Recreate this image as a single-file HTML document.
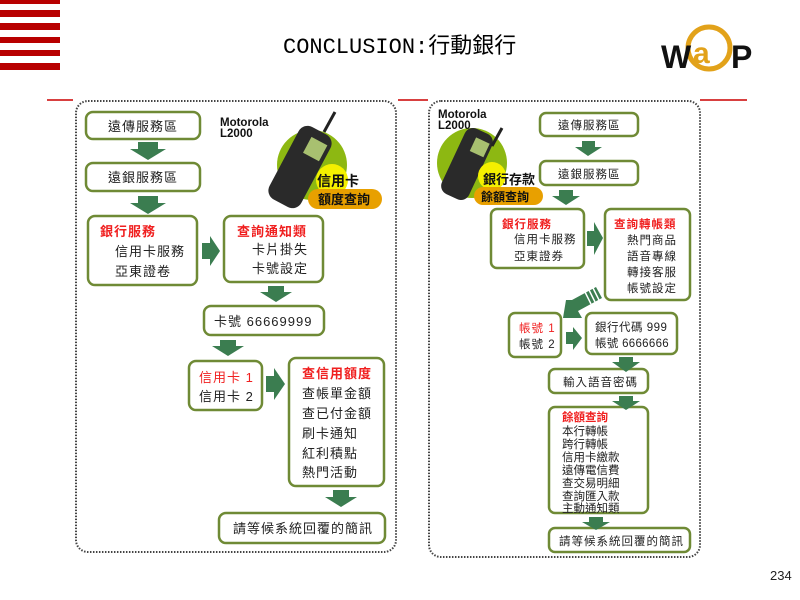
<!DOCTYPE html>
<html><head><meta charset="utf-8"><style>
html,body{margin:0;padding:0;background:#fff;width:800px;height:600px;overflow:hidden}
svg text{font-family:"Liberation Sans","Noto Sans CJK TC",sans-serif}
</style></head><body>
<svg width="800" height="600" xmlns="http://www.w3.org/2000/svg">
<g fill="#b80000">
<rect x="0" y="0" width="60" height="4"/><rect x="0" y="10" width="60" height="7"/>
<rect x="0" y="23" width="60" height="7"/><rect x="0" y="37" width="60" height="6"/>
<rect x="0" y="50" width="60" height="6"/><rect x="0" y="63" width="60" height="7"/>
</g>
<text x="283" y="53" font-size="22" style="font-family:'Liberation Mono','Noto Sans CJK TC',monospace" fill="#000">CONCLUSION:行動銀行</text>
<!-- WAP -->
<circle cx="709" cy="48" r="21" fill="none" stroke="#e2a21a" stroke-width="5"/>
<text x="693" y="63" font-size="30" font-weight="bold" fill="#e2a21a" style="font-family:'Liberation Sans',sans-serif">a</text>
<text x="661" y="68" font-size="32" font-weight="bold" fill="#111" style="font-family:'Liberation Sans',sans-serif">W</text>
<text x="731" y="68" font-size="32" font-weight="bold" fill="#111" style="font-family:'Liberation Sans',sans-serif">P</text>
<g stroke="#c00" stroke-width="1.5">
<line x1="47" y1="100" x2="73" y2="100"/><line x1="398" y1="100" x2="428" y2="100"/><line x1="700" y1="100" x2="747" y2="100"/>
</g>
<rect x="76" y="101" width="320" height="451" rx="12" fill="none" stroke="#444" stroke-width="2" stroke-dasharray="1.5 1.5"/>
<rect x="429" y="101" width="271" height="456" rx="12" fill="none" stroke="#444" stroke-width="2" stroke-dasharray="1.5 1.5"/>

<g fill="#fff" stroke="#6f8a35" stroke-width="2.5">
<rect x="86" y="112" width="114" height="27" rx="7"/>
<rect x="86" y="163" width="114" height="28" rx="7"/>
<rect x="88" y="216" width="109" height="69" rx="7"/>
<rect x="224" y="216" width="99" height="66" rx="7"/>
<rect x="204" y="306" width="120" height="29" rx="7"/>
<rect x="189" y="361" width="73" height="49" rx="7"/>
<rect x="289" y="358" width="95" height="128" rx="7"/>
<rect x="219" y="513" width="166" height="30" rx="7"/>
<rect x="540" y="113" width="98" height="23" rx="6"/>
<rect x="540" y="161" width="98" height="24" rx="6"/>
<rect x="491" y="209" width="93" height="59" rx="6"/>
<rect x="605" y="209" width="85" height="91" rx="6"/>
<rect x="509" y="313" width="52" height="44" rx="6"/>
<rect x="586" y="313" width="91" height="41" rx="6"/>
<rect x="549" y="369" width="99" height="24" rx="6"/>
<rect x="549" y="407" width="99" height="106" rx="6"/>
<rect x="549" y="528" width="141" height="24" rx="6"/>
</g>

<g fill="#3b7d50">
<polygon points="138,142 158,142 158,149 166,149 148,160 130,149 138,149"/>
<polygon points="138,196 158,196 158,203 166,203 148,214 130,203 138,203"/>
<polygon points="202,243 210,243 210,236 220,251 210,266 210,259 202,259"/>
<polygon points="268,286 284,286 284,292 292,292 276,302 260,292 268,292"/>
<polygon points="220,340 236,340 236,346 244,346 228,356 212,346 220,346"/>
<polygon points="266,376 274,376 274,368 285,384 274,400 274,392 266,392"/>
<polygon points="333,490 349,490 349,497 357,497 341,507 325,497 333,497"/>
<polygon points="582,141 595,141 595,147 602,147 588,156 575,147 582,147"/>
<polygon points="559,190 573,190 573,196 580,196 566,205 552,196 559,196"/>
<polygon points="587,231 594,231 594,222 603,238 594,255 594,246 587,246"/>
<polygon points="566,332 573,332 573,327 582,338 573,350 573,344 566,344"/>
<polygon points="619,357 633,357 633,362 640,362 626,372 612,362 619,362"/>
<polygon points="619,396 633,396 633,401 640,401 626,410 612,401 619,401"/>
<polygon points="589,517 603,517 603,522 610,522 596,530 582,522 589,522"/>
<polygon points="572,300 596,287 602,298 578,311 582,318 563,318 566,300"/>
</g>
<g stroke="#fff" stroke-width="1.5">
<line x1="585" y1="292" x2="591" y2="304"/><line x1="589" y1="290" x2="595" y2="302"/><line x1="593" y1="288" x2="599" y2="300"/>
</g>

<circle cx="312" cy="165" r="35" fill="#8db812"/>
<rect x="282" y="126" width="36" height="82" rx="10" fill="#2a2a2a" transform="rotate(28 300 167)"/>
<rect x="296" y="135" width="18" height="18" fill="#a8c070" transform="rotate(28 300 167)"/>
<line x1="335" y1="112" x2="324" y2="132" stroke="#222" stroke-width="3"/>
<circle cx="332" cy="180" r="16" fill="#f4f000"/>
<text x="317" y="186" font-size="14" font-weight="bold" fill="#111">信用卡</text>
<rect x="308" y="189" width="74" height="20" rx="10" fill="#e8a000"/>
<text x="318" y="204" font-size="13" font-weight="bold" fill="#111">額度查詢</text>
<text x="220" y="126" font-size="11.5" font-weight="bold" fill="#111">Motorola</text>
<text x="220" y="137" font-size="11.5" font-weight="bold" fill="#111">L2000</text>

<circle cx="472" cy="163" r="35" fill="#8db812"/>
<rect x="452" y="128" width="30" height="72" rx="9" fill="#2a2a2a" transform="rotate(25 467 164)"/>
<rect x="464" y="136" width="15" height="15" fill="#a8c070" transform="rotate(25 467 164)"/>
<line x1="502" y1="128" x2="492" y2="146" stroke="#222" stroke-width="3"/>
<circle cx="492" cy="176" r="14" fill="#f4f000"/>
<text x="483" y="184" font-size="13" font-weight="bold" fill="#111">銀行存款</text>
<rect x="474" y="187" width="69" height="18" rx="9" fill="#e8a000"/>
<text x="481" y="201" font-size="12" font-weight="bold" fill="#111">餘額查詢</text>
<text x="438" y="118" font-size="11.5" font-weight="bold" fill="#111">Motorola</text>
<text x="438" y="129" font-size="11.5" font-weight="bold" fill="#111">L2000</text>

<g font-size="13" fill="#222" letter-spacing="1">
<text x="108" y="131">遠傳服務區</text>
<text x="108" y="182">遠銀服務區</text>
<text x="100" y="236" fill="#f02020" font-weight="bold">銀行服務</text>
<text x="115" y="256">信用卡服務</text>
<text x="115" y="276">亞東證卷</text>
<text x="237" y="236" fill="#f02020" font-weight="bold">查詢通知類</text>
<text x="252" y="254">卡片掛失</text>
<text x="252" y="273">卡號設定</text>
<text x="214" y="326">卡號  66669999</text>
<text x="199" y="382" fill="#f02020">信用卡 1</text>
<text x="199" y="401">信用卡 2</text>
<text x="302" y="378" fill="#f02020" font-weight="bold">查信用額度</text>
<text x="302" y="398">查帳單金額</text>
<text x="302" y="418">查已付金額</text>
<text x="302" y="438">刷卡通知</text>
<text x="302" y="458">紅利積點</text>
<text x="302" y="477">熱門活動</text>
<text x="233" y="533">請等候系統回覆的簡訊</text>
</g>
<g font-size="11.5" fill="#222" letter-spacing="1">
<text x="558" y="129">遠傳服務區</text>
<text x="558" y="178">遠銀服務區</text>
<text x="502" y="228" fill="#f02020" font-weight="bold">銀行服務</text>
<text x="514" y="243">信用卡服務</text>
<text x="514" y="260">亞東證券</text>
<text x="614" y="228" fill="#f02020" font-weight="bold">查詢轉帳類</text>
<text x="627" y="244">熱門商品</text>
<text x="627" y="260">語音專線</text>
<text x="627" y="276">轉接客服</text>
<text x="627" y="292">帳號設定</text>
<text x="519" y="332" fill="#f02020">帳號 1</text>
<text x="519" y="348">帳號 2</text>
<text x="595" y="331" letter-spacing="0.5">銀行代碼 999</text>
<text x="595" y="347" letter-spacing="0.3">帳號 6666666</text>
<text x="563" y="386">輸入語音密碼</text>
<g letter-spacing="0">
<text x="562" y="421" fill="#f02020" font-weight="bold">餘額查詢</text>
<text x="562" y="435">本行轉帳</text>
<text x="562" y="448">跨行轉帳</text>
<text x="562" y="461">信用卡繳款</text>
<text x="562" y="474">遠傳電信費</text>
<text x="562" y="487">查交易明細</text>
<text x="562" y="500">查詢匯入款</text>
<text x="562" y="512">主動通知類</text>
</g>
<text x="559" y="545">請等候系統回覆的簡訊</text>
</g>
<text x="770" y="580" font-size="13" fill="#222">234</text>
</svg>
</body></html>
